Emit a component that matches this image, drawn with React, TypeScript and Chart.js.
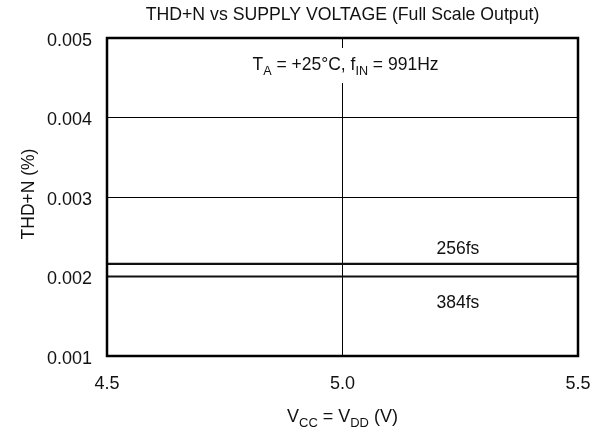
import React, { useEffect, useRef } from "react";
import { Chart, registerables } from "chart.js";

Chart.register(...registerables);

// ---- data ----
const supplyVoltage = [4.5, 5.5];
const thd256fs = [0.00216, 0.00216];
const thd384fs = [0.002, 0.002];
const xTickValues = [4.5, 5.0, 5.5];
const yTickValues = [0.001, 0.002, 0.003, 0.004, 0.005];
const seriesNames = ["256fs", "384fs"];
const chartTitle = "THD+N vs SUPPLY VOLTAGE (Full Scale Output)";
const yTitle = "THD+N (%)";

const FONT = "'Liberation Sans', Arial, sans-serif";
const TEXT = "#111";

type Part = { t: string; sub?: boolean };

function measureRich(ctx: CanvasRenderingContext2D, parts: Part[], size: number) {
  const subSize = size * 0.72;
  let total = 0;
  for (const p of parts) {
    ctx.font = `${p.sub ? subSize : size}px ${FONT}`;
    total += ctx.measureText(p.t).width;
  }
  return total;
}

function drawRich(ctx: CanvasRenderingContext2D, parts: Part[], cx: number, baseline: number, size: number) {
  const subSize = size * 0.72;
  const total = measureRich(ctx, parts, size);
  let x = cx - total / 2;
  ctx.textAlign = "left";
  ctx.textBaseline = "alphabetic";
  for (const p of parts) {
    ctx.font = `${p.sub ? subSize : size}px ${FONT}`;
    ctx.fillText(p.t, x, p.sub ? baseline + size * 0.28 : baseline);
    x += ctx.measureText(p.t).width;
  }
}

const conditionParts: Part[] = [
  { t: "T" },
  { t: "A", sub: true },
  { t: " = +25°C, f" },
  { t: "IN", sub: true },
  { t: " = 991Hz" },
];

const overlay = {
  id: "overlay",
  afterDraw(chart: any) {
    const { ctx, chartArea: a, scales } = chart;
    const xs = scales.x;
    const ys = scales.y;
    ctx.save();
    // conditions annotation with white backing (gridline break)
    const cx = xs.getPixelForValue(5.0) + 3;
    const w = measureRich(ctx, conditionParts, 17.5);
    ctx.fillStyle = "#fff";
    ctx.fillRect(cx - w / 2 - 4, 48, w + 8, 35);
    ctx.fillStyle = TEXT;
    drawRich(ctx, conditionParts, cx, 70, 17.5);
    // frame
    ctx.strokeStyle = "#000";
    ctx.lineWidth = 2.5;
    ctx.strokeRect(a.left, a.top, a.right - a.left, a.bottom - a.top);
    ctx.fillStyle = TEXT;
    // title
    ctx.font = `17.7px ${FONT}`;
    ctx.textAlign = "center";
    ctx.textBaseline = "alphabetic";
    ctx.fillText(chartTitle, (a.left + a.right) / 2, 19.5);
    // series labels
    ctx.font = `17.5px ${FONT}`;
    ctx.textAlign = "center";
    ctx.textBaseline = "alphabetic";
    const lx = xs.getPixelForValue(5.245);
    ctx.fillText(seriesNames[0], lx, ys.getPixelForValue(thd256fs[1]) - 10);
    ctx.fillText(seriesNames[1], lx, ys.getPixelForValue(thd384fs[1]) + 31);
    // x title
    drawRich(
      ctx,
      [{ t: "V" }, { t: "CC", sub: true }, { t: " = V" }, { t: "DD", sub: true }, { t: " (V)" }],
      (a.left + a.right) / 2,
      422,
      18
    );
    // y title
    ctx.translate(34, 194);
    ctx.rotate(-Math.PI / 2);
    ctx.font = `17.5px ${FONT}`;
    ctx.textAlign = "center";
    ctx.textBaseline = "alphabetic";
    ctx.fillText(yTitle, 0, 0);
    ctx.restore();
  },
};

export default function App() {
  const ref = useRef<HTMLCanvasElement | null>(null);
  useEffect(() => {
    document.body.style.margin = "0";
    const canvas = ref.current!;
    const chart = new Chart(canvas, {
      type: "line",
      data: {
        datasets: [
          {
            label: seriesNames[0],
            data: supplyVoltage.map((v, i) => ({ x: v, y: thd256fs[i] })),
            borderColor: "#111",
            borderWidth: 2.2,
            pointRadius: 0,
          },
          {
            label: seriesNames[1],
            data: supplyVoltage.map((v, i) => ({ x: v, y: thd384fs[i] })),
            borderColor: "#111",
            borderWidth: 2.2,
            pointRadius: 0,
          },
        ],
      },
      options: {
        animation: false,
        responsive: false,
        devicePixelRatio: 1,
        layout: { padding: { left: 0, top: 38, right: 19, bottom: 0 } },
        plugins: { legend: { display: false }, title: { display: false }, tooltip: { enabled: false } },
        scales: {
          x: {
            type: "linear",
            min: 4.5,
            max: 5.5,
            afterBuildTicks: (s: any) => {
              s.ticks = xTickValues.map((v) => ({ value: v }));
            },
            afterFit: (s: any) => {
              s.height = 72;
              s.paddingLeft = 0;
              s.paddingRight = 0;
            },
            grid: { color: "#000", lineWidth: 1, drawTicks: false },
            border: { display: false },
            ticks: {
              color: TEXT,
              font: { family: FONT, size: 18 },
              padding: 17,
              maxRotation: 0,
              callback: (v: any) => Number(v).toFixed(1),
            },
          },
          y: {
            type: "linear",
            min: 0.001,
            max: 0.005,
            afterBuildTicks: (s: any) => {
              s.ticks = yTickValues.map((v) => ({ value: v }));
            },
            afterFit: (s: any) => {
              s.width = 107;
              s.paddingTop = 0;
              s.paddingBottom = 0;
            },
            grid: { color: "#000", lineWidth: 1, drawTicks: false },
            border: { display: false },
            ticks: {
              color: TEXT,
              font: { family: FONT, size: 18 },
              padding: 15,
              labelOffset: 3,
              callback: (v: any) => Number(v).toFixed(3),
            },
          },
        },
      },
      plugins: [overlay],
    });
    return () => chart.destroy();
  }, []);
  return <canvas ref={ref} width={597} height={428} style={{ display: "block" }} />;
}
